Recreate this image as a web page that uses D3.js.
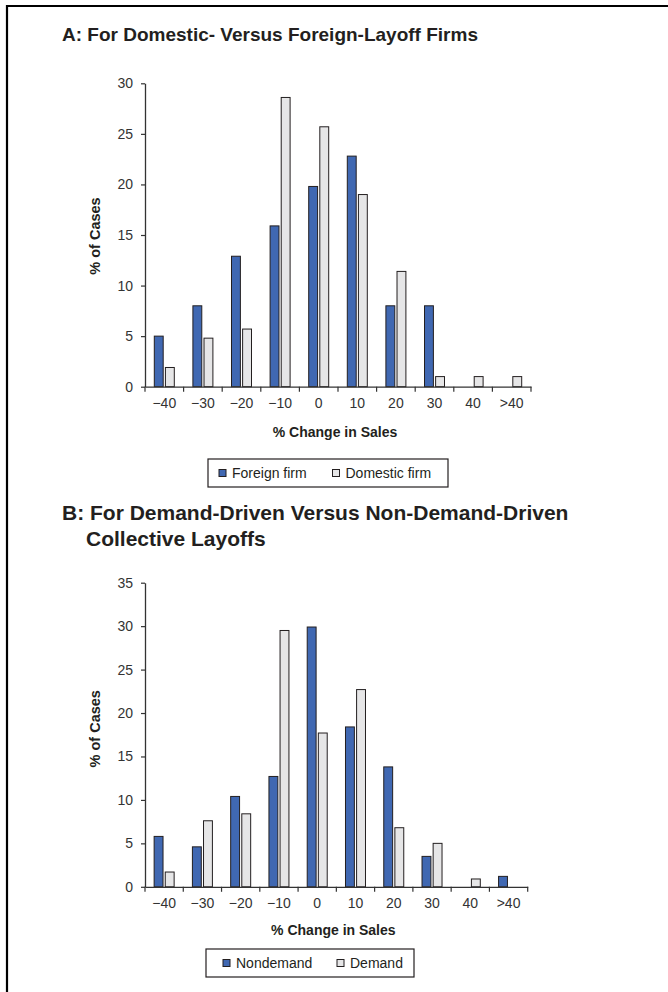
<!DOCTYPE html>
<html>
<head>
<meta charset="utf-8">
<script src="https://cdn.jsdelivr.net/npm/d3@7"></script>
<style>
  body { margin: 0; background: #fff; }
  svg { display: block; font-family: "Liberation Sans", Arial, sans-serif; }
</style>
</head>
<body>
<svg id="chart" width="668" height="992"></svg>
<script>
// categories on the x axis (% change in sales)
const categories = ["\u221240", "\u221230", "\u221220", "\u221210", "0", "10", "20", "30", "40", ">40"];

// Panel A
const seriesA = ["Foreign firm", "Domestic firm"];
const foreignFirm = [5, 8, 12.9, 15.9, 19.8, 22.8, 8, 8, 0, 0];
const domesticFirm = [1.9, 4.8, 5.7, 28.6, 25.7, 19.0, 11.4, 1.0, 1.0, 1.0];
const ticksA = [0, 5, 10, 15, 20, 25, 30];

// Panel B
const seriesB = ["Nondemand", "Demand"];
const nondemand = [5.8, 4.6, 10.4, 12.7, 29.9, 18.4, 13.8, 3.5, 0, 1.2];
const demand = [1.7, 7.6, 8.4, 29.5, 17.7, 22.7, 6.8, 5.0, 0.9, 0];
const ticksB = [0, 5, 10, 15, 20, 25, 30, 35];

const ink = "#231f20";
const colors = ["#4068b2", "#e6e6e7"];

const svg = d3.select("#chart");

// outer frame (top and left edge only visible)
svg.append("path")
    .attr("d", "M7,992 V6 H668")
    .attr("fill", "none")
    .attr("stroke", "#000")
    .attr("stroke-width", 2.2);

function drawPanel(opt) {
    const g = svg.append("g");

    const x = d3.scaleBand().domain(categories).range([opt.left, opt.right]).padding(0);
    const y = d3.scaleLinear().domain([0, d3.max(opt.ticks)]).range([opt.bottom, opt.top]);
    const x1 = d3.scaleBand().domain(opt.series).range([-10, 10]).paddingInner(0.2);

    const rows = categories.map((c, i) => ({cat: c, vals: opt.values.map(v => v[i])}));

    // bars
    g.append("g")
        .selectAll("g")
        .data(rows)
        .join("g")
        .attr("transform", d => `translate(${x(d.cat) + x.bandwidth() / 2},0)`)
        .selectAll("rect")
        .data(d => d.vals.map((v, k) => ({k, v})).filter(e => e.v > 0))
        .join("rect")
        .attr("x", e => x1(opt.series[e.k]))
        .attr("width", x1.bandwidth())
        .attr("y", e => y(e.v))
        .attr("height", e => y(0) - y(e.v))
        .attr("fill", e => colors[e.k])
        .attr("stroke", ink)
        .attr("stroke-width", 1);

    // y axis
    const yAxis = g.append("g")
        .attr("transform", `translate(${opt.left},0)`)
        .call(d3.axisLeft(y).tickValues(opt.ticks).tickSize(4).tickPadding(8).tickSizeOuter(0));
    yAxis.select(".domain").attr("stroke", "#333").attr("stroke-width", 1.3);
    yAxis.selectAll(".tick line").attr("stroke", "#333").attr("stroke-width", 1.2);
    yAxis.selectAll("text").attr("fill", "#333").style("font-size", "14px");

    // x axis: labels at centres, ticks on category boundaries
    const xAxis = g.append("g")
        .attr("transform", `translate(0,${opt.bottom})`)
        .call(d3.axisBottom(x).tickSize(0).tickPadding(11.5));
    xAxis.select(".domain").attr("stroke", "#333").attr("stroke-width", 1.3);
    xAxis.selectAll("text").attr("fill", "#333").style("font-size", "14px");
    const bounds = categories.map(c => x(c)).concat([x.range()[1]]);
    xAxis.selectAll(".bound")
        .data(bounds)
        .join("line")
        .attr("class", "bound")
        .attr("x1", d => d).attr("x2", d => d)
        .attr("y1", 0).attr("y2", 5)
        .attr("stroke", "#333")
        .attr("stroke-width", 1.2);

    // axis titles
    g.append("text")
        .attr("x", (opt.left + opt.right) / 2 - 3)
        .attr("y", opt.xTitleY)
        .attr("text-anchor", "middle")
        .attr("font-weight", "bold")
        .attr("fill", ink)
        .style("font-size", "14px")
        .text("% Change in Sales");

    g.append("text")
        .attr("transform", `translate(100,${(opt.top + opt.bottom) / 2 + opt.yTitleShift}) rotate(-90)`)
        .attr("text-anchor", "middle")
        .attr("font-weight", "bold")
        .attr("fill", ink)
        .style("font-size", "14.5px")
        .text("% of Cases");

    // legend
    const lg = g.append("g");
    lg.append("rect")
        .attr("x", opt.legend.x).attr("y", opt.legend.y)
        .attr("width", opt.legend.w).attr("height", opt.legend.h)
        .attr("fill", "#fff")
        .attr("stroke", ink)
        .attr("stroke-width", 1.2);
    opt.series.forEach((s, k) => {
        lg.append("rect")
            .attr("x", opt.legend.items[k]).attr("y", opt.legend.y + opt.legend.h / 2 - 3.5)
            .attr("width", 7).attr("height", 7)
            .attr("fill", colors[k])
            .attr("stroke", ink)
            .attr("stroke-width", 1);
        lg.append("text")
            .attr("x", opt.legend.items[k] + 13)
            .attr("y", opt.legend.y + opt.legend.h / 2 + 5)
            .attr("fill", ink)
            .style("font-size", "14px")
            .text(s);
    });
}

// titles
svg.append("text")
    .attr("x", 62).attr("y", 41)
    .attr("font-weight", "bold").attr("fill", ink)
    .style("font-size", "19px")
    .text("A: For Domestic- Versus Foreign-Layoff Firms");

const titleB = svg.append("text")
    .attr("font-weight", "bold").attr("fill", ink)
    .style("font-size", "21px");
titleB.append("tspan").attr("x", 62).attr("y", 520).text("B: For Demand-Driven Versus Non-Demand-Driven");
titleB.append("tspan").attr("x", 86).attr("y", 546).text("Collective Layoffs");

drawPanel({
    series: seriesA,
    values: [foreignFirm, domesticFirm],
    ticks: ticksA,
    left: 145, right: 531, top: 83.3, bottom: 386.7,
    xTitleY: 437, yTitleShift: 1,
    legend: {x: 208, y: 459, w: 240, h: 28, items: [219, 332.5]}
});

drawPanel({
    series: seriesB,
    values: [nondemand, demand],
    ticks: ticksB,
    left: 145, right: 527.7, top: 582.7, bottom: 886.8,
    xTitleY: 935, yTitleShift: -6,
    legend: {x: 206, y: 949, w: 208, h: 28, items: [223, 337]}
});
</script>
</body>
</html>
